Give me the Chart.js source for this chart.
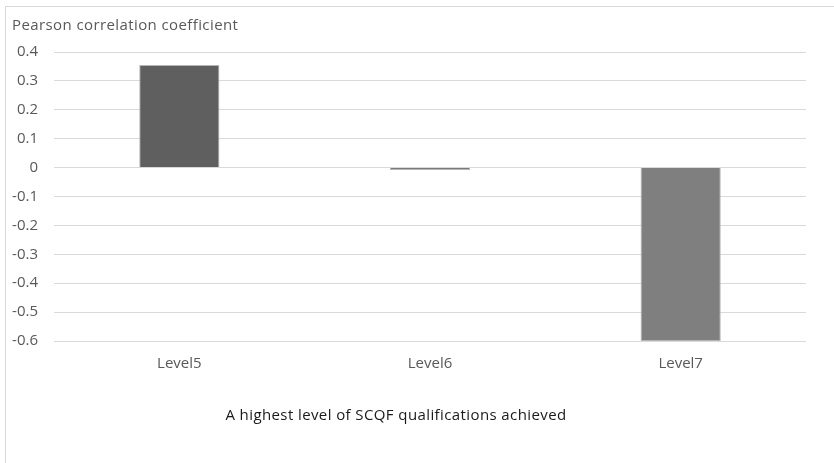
<!DOCTYPE html>
<html><head><meta charset="utf-8">
<script src="https://cdn.jsdelivr.net/npm/chart.js@4"></script>
<style>
html,body{margin:0;padding:0;background:#fff;}
#wrap{position:relative;width:834px;height:463px;}
#frame{position:absolute;left:5px;top:6px;width:840px;height:470px;border:1px solid #d9d9d9;box-sizing:border-box;}
canvas{position:absolute;left:0;top:0;}
</style></head>
<body><div id="wrap"><div id="frame"></div><canvas id="c" width="834" height="463"></canvas></div>
<script>
const categories = ["Level5", "Level6", "Level7"];
const values = [0.355, -0.008, -0.6];
const barColors = ["#5f5f5f", "#7a7a7a", "#7f7f7f"];
const yTitle = "Pearson correlation coefficient";
const xTitle = "A highest level of SCQF qualifications achieved";
const yMin = -0.6, yMax = 0.4, yStep = 0.1;

const FONT = "'Open Sans', 'Noto Sans', sans-serif";

const textPlugin = {
  id: 'texts',
  afterDraw(chart) {
    const ctx = chart.ctx;
    ctx.save();
    ctx.font = "15px " + FONT;
    if ('letterSpacing' in ctx) ctx.letterSpacing = "0.4px";
    ctx.fillStyle = "#595959";
    ctx.textAlign = "left";
    ctx.textBaseline = "middle";
    ctx.fillText(yTitle, 12, 26);
    ctx.fillStyle = "#1a1a1a";
    ctx.textAlign = "center";
    ctx.fillText(xTitle, 396, 416);
    ctx.restore();
  }
};

new Chart(document.getElementById('c'), {
  type: 'bar',
  data: {
    labels: categories,
    datasets: [{
      data: values,
      backgroundColor: barColors,
      borderColor: "#b5b5b5",
      borderWidth: 1,
      barPercentage: 0.32,
      categoryPercentage: 1
    }]
  },
  options: {
    responsive: false,
    animation: false,
    devicePixelRatio: 1,
    layout: { padding: { left: 0, right: 28, top: 52, bottom: 0 } },
    plugins: { legend: { display: false }, tooltip: { enabled: false } },
    scales: {
      x: {
        grid: { display: false, drawTicks: false },
        border: { display: false },
        ticks: { color: "#595959", font: { family: FONT, size: 15 }, padding: 14 },
        afterFit(s) { s.height = 122; }
      },
      y: {
        min: yMin, max: yMax,
        grid: { color: "#d9d9d9", lineWidth: 1, drawTicks: false },
        border: { display: false },
        ticks: {
          stepSize: yStep,
          color: "#595959",
          font: { family: FONT, size: 15 },
          padding: 16,
          callback: v => String(Number(v.toFixed(1)))
        },
        afterFit(s) { s.width = 54; }
      }
    }
  },
  plugins: [textPlugin]
});
</script></body></html>
